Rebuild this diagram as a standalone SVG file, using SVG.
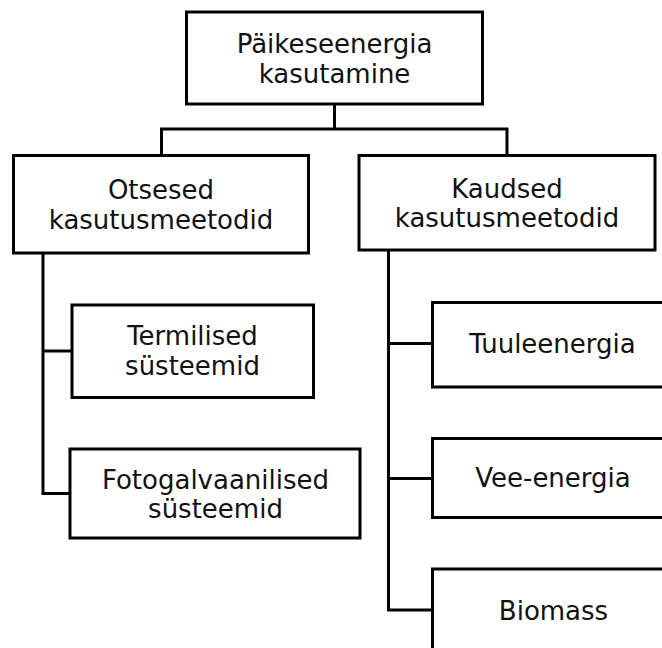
<svg xmlns="http://www.w3.org/2000/svg" width="662" height="648" viewBox="0 0 662 648">
<style>
.box{fill:#fff;stroke:#000;stroke-width:3}
.ln{fill:none;stroke:#000;stroke-width:3}
text{font-family:"DejaVu Sans",Verdana,sans-serif;font-size:26px;fill:#111;text-anchor:middle}
</style>
<rect width="662" height="648" fill="#fff"/>
<g id="connectors">
<polyline class="ln" points="334.5,104 334.5,129"/>
<polyline class="ln" points="161.5,155.5 161.5,129 507,129 507,155.5"/>
<polyline class="ln" points="43,253 43,493.5 70,493.5"/>
<polyline class="ln" points="43,351 72,351"/>
<polyline class="ln" points="388.5,250 388.5,610 432.5,610"/>
<polyline class="ln" points="388.5,343.5 432.5,343.5"/>
<polyline class="ln" points="388.5,478.5 432.5,478.5"/>
</g>
<g id="root">
<rect class="box" x="186.5" y="12" width="296" height="92"/>
<text x="334.5" y="53">Päikeseenergia</text>
<text x="334.5" y="83">kasutamine</text>
</g>
<g id="otsesed">
<rect class="box" x="13.5" y="155.5" width="295" height="97.5"/>
<text x="161" y="199">Otsesed</text>
<text x="161" y="228.5">kasutusmeetodid</text>
</g>
<g id="kaudsed">
<rect class="box" x="359" y="155.5" width="296" height="94.5"/>
<text x="507" y="197.5">Kaudsed</text>
<text x="507" y="226.5">kasutusmeetodid</text>
</g>
<g id="termilised">
<rect class="box" x="72" y="305" width="241.5" height="92.5"/>
<text x="192.5" y="345">Termilised</text>
<text x="192.5" y="374.5">süsteemid</text>
</g>
<g id="fotogalvaanilised">
<rect class="box" x="70" y="449" width="290" height="89"/>
<text x="215.5" y="489">Fotogalvaanilised</text>
<text x="215.5" y="517.5">süsteemid</text>
</g>
<g id="tuuleenergia">
<rect class="box" x="432.5" y="302.5" width="240" height="84.5"/>
<text x="552.5" y="353">Tuuleenergia</text>
</g>
<g id="vee-energia">
<rect class="box" x="432.5" y="438.5" width="240" height="79"/>
<text x="553" y="487">Vee-energia</text>
</g>
<g id="biomass">
<rect class="box" x="432.5" y="569" width="240" height="90"/>
<text x="553.5" y="620">Biomass</text>
</g>
</svg>
